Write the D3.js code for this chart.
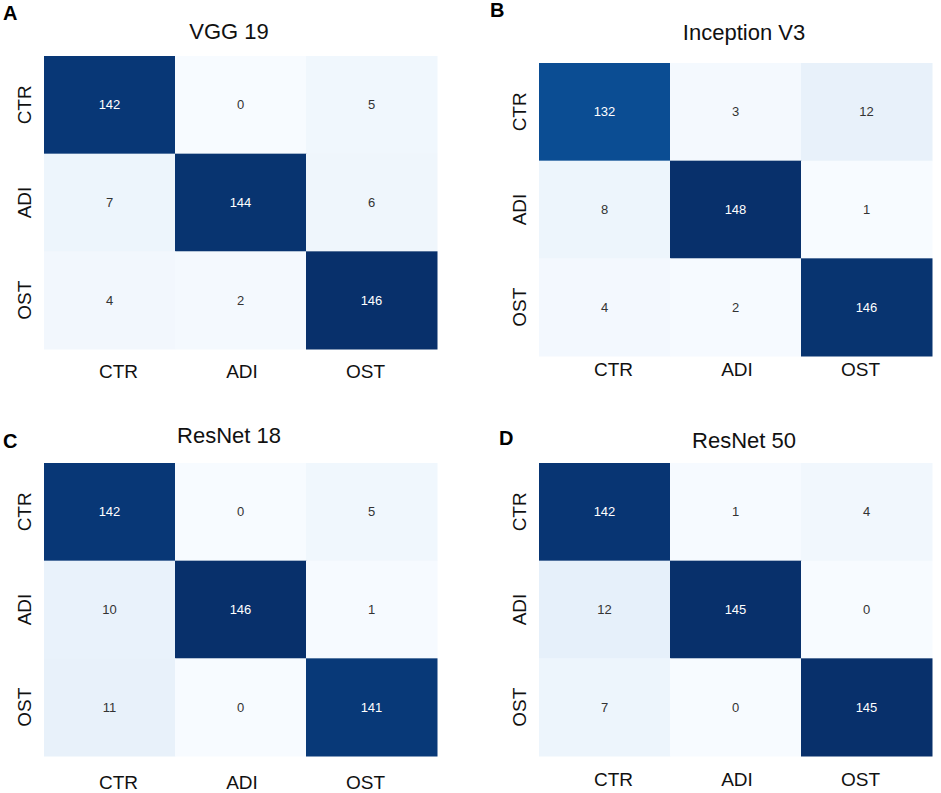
<!DOCTYPE html>
<html>
<head>
<meta charset="utf-8">
<script src="https://cdn.jsdelivr.net/npm/d3@7"></script>
<style>
  body { margin: 0; background: #fff; }
  text { font-family: "Liberation Sans", Arial, sans-serif; }
</style>
</head>
<body>
<div id="wrapper"></div>
<script>
// class labels shared by every confusion matrix
const classes = ["CTR", "ADI", "OST"];
const titles = ["VGG 19", "Inception V3", "ResNet 18", "ResNet 50"];
const panelLetters = ["A", "B", "C", "D"];

// confusion matrices, rows = true class, cols = predicted
const vgg19 = [[142, 0, 5], [7, 144, 6], [4, 2, 146]];
const inceptionV3 = [[132, 3, 12], [8, 148, 1], [4, 2, 146]];
const resnet18 = [[142, 0, 5], [10, 146, 1], [11, 0, 141]];
const resnet50 = [[142, 1, 4], [12, 145, 0], [7, 0, 145]];
const matrices = [vgg19, inceptionV3, resnet18, resnet50];

// panel placement (layout only)
const panels = [
    {left: 44,  top: 56,  titleX: 229, titleY: 39,  letterX: 3,   letterY: 20,  xLabelY: 378},
    {left: 539, top: 63,  titleX: 744, titleY: 40,  letterX: 490, letterY: 17,  xLabelY: 376},
    {left: 44,  top: 463, titleX: 229, titleY: 443, letterX: 3,   letterY: 448, xLabelY: 789},
    {left: 539, top: 463, titleX: 744, titleY: 448, letterX: 499, letterY: 445, xLabelY: 786}
];
const cellW = 393, cellH = 293;

const svg = d3.select("#wrapper")
    .append("svg")
        .attr("width", 941)
        .attr("height", 793);

matrices.forEach((matrix, i) => {
    const p = panels[i];
    const cells = [];
    matrix.forEach((row, r) => row.forEach((v, c) => cells.push({row: classes[r], col: classes[c], value: v})));

    const xScale = d3.scaleBand().domain(classes).range([0, cellW]);
    const yScale = d3.scaleBand().domain(classes).range([0, cellH]);
    const color = d3.scaleSequential(d3.interpolateBlues)
        .domain(d3.extent(cells, d => d.value));

    const g = svg.append("g")
        .attr("transform", `translate(${p.left},${p.top})`);

    g.selectAll("rect")
        .data(cells)
        .join("rect")
            .attr("x", d => xScale(d.col))
            .attr("y", d => yScale(d.row))
            .attr("width", xScale.bandwidth() + 0.5)
            .attr("height", yScale.bandwidth() + 0.5)
            .attr("fill", d => color(d.value));

    // annotations: white on dark cells, dark grey on light ones
    g.selectAll("text.val")
        .data(cells)
        .join("text")
            .attr("class", "val")
            .attr("x", d => xScale(d.col) + xScale.bandwidth() / 2)
            .attr("y", d => yScale(d.row) + yScale.bandwidth() / 2)
            .attr("dy", "0.35em")
            .attr("text-anchor", "middle")
            .style("font-size", "13px")
            .attr("fill", d => {
                const c = d3.rgb(color(d.value));
                const lum = (0.299 * c.r + 0.587 * c.g + 0.114 * c.b) / 255;
                return lum < 0.5 ? "#ffffff" : "#333333";
            })
            .text(d => d.value);

    // x tick labels sit a little inside the outer columns
    const xLabelScale = d3.scalePoint().domain(classes).range([74, cellW - 72]);
    const xAxis = g.append("g")
        .attr("transform", `translate(0,${p.xLabelY - p.top})`)
        .call(d3.axisBottom(xLabelScale).tickSize(0).tickPadding(0));
    xAxis.select(".domain").remove();
    xAxis.selectAll("text")
        .attr("y", 0)
        .attr("dy", 0)
        .attr("fill", "#111")
        .style("font-size", "19px");

    const yAxis = g.append("g")
        .call(d3.axisLeft(yScale).tickSize(0));
    yAxis.select(".domain").remove();
    yAxis.selectAll("text")
        .attr("x", 0)
        .attr("dy", 0)
        .attr("text-anchor", "middle")
        .attr("fill", "#111")
        .attr("transform", "translate(-13,0) rotate(-90)")
        .style("font-size", "19px");

    svg.append("text")
        .attr("x", p.titleX)
        .attr("y", p.titleY)
        .attr("text-anchor", "middle")
        .attr("fill", "#111")
        .style("font-size", "22px")
        .text(titles[i]);

    svg.append("text")
        .attr("x", p.letterX)
        .attr("y", p.letterY)
        .attr("fill", "#000")
        .style("font-size", "20px")
        .style("font-weight", "bold")
        .text(panelLetters[i]);
});
</script>
</body>
</html>
